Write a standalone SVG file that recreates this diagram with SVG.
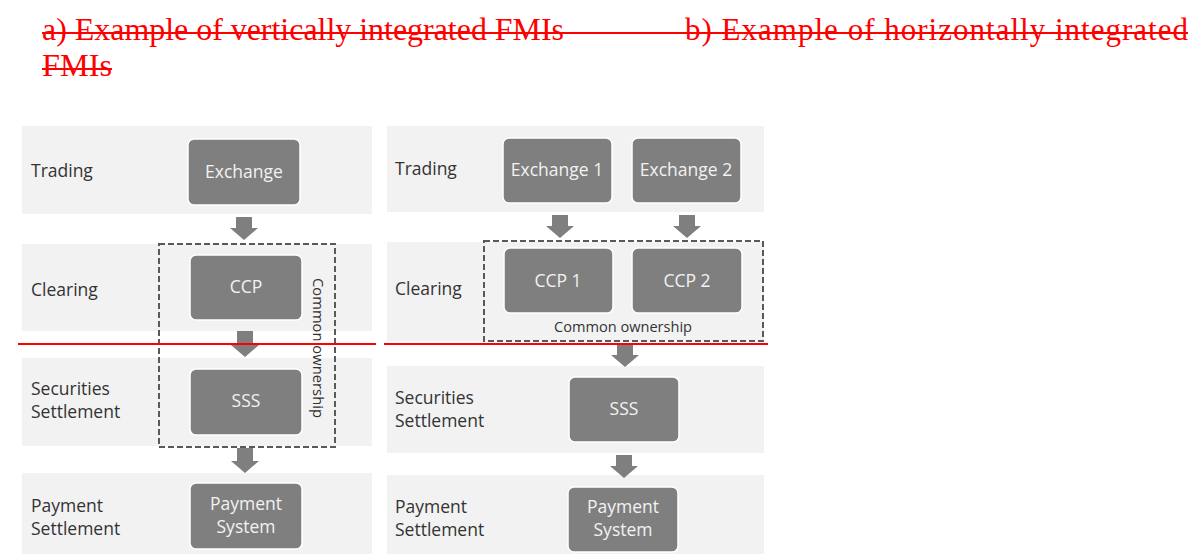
<svg xmlns="http://www.w3.org/2000/svg" width="1192" height="554" viewBox="0 0 1192 554">
<style>
.title{font-family:"Liberation Serif","Times New Roman",serif;font-size:31px;fill:#ff0000}
.strike{stroke:#ff0000;stroke-width:2}
.band{fill:#f2f2f2}
.lbl{font-family:"Open Sans","Noto Sans",sans-serif;font-size:17.5px;fill:#333333}
.box{fill:#7f7f7f;stroke:#ffffff;stroke-width:1.5}
.btxt{font-family:"Open Sans","Noto Sans",sans-serif;font-size:17.5px;fill:#f2f2f2;text-anchor:middle}
.own{font-family:"Open Sans","Noto Sans",sans-serif;font-size:14px;fill:#333333;text-anchor:middle}
.dash{fill:none;stroke:#595959;stroke-width:2;stroke-dasharray:6 3}
.arr{fill:#7f7f7f}
.red{stroke:#ff0000;stroke-width:2}
</style>
<rect width="1192" height="554" fill="#ffffff"/>
<g id="titles">
<text class="title" x="42" y="40" textLength="522" lengthAdjust="spacingAndGlyphs">a) Example of vertically integrated FMIs</text>
<text class="title" x="685" y="40" textLength="503" lengthAdjust="spacing">b) Example of horizontally integrated</text>
<text class="title" x="42" y="76" textLength="70" lengthAdjust="spacingAndGlyphs">FMIs</text>
<line class="strike" x1="42" y1="33" x2="1188" y2="33"/>
<line class="strike" x1="42" y1="69" x2="112" y2="69"/>
</g>
<g id="bands">
<rect class="band" x="22" y="126" width="350" height="88"/>
<rect class="band" x="22" y="244" width="350" height="87"/>
<rect class="band" x="22" y="358" width="350" height="88"/>
<rect class="band" x="22" y="473" width="350" height="81"/>
<rect class="band" x="387" y="126" width="377" height="86"/>
<rect class="band" x="387" y="242" width="377" height="99"/>
<rect class="band" x="387" y="366" width="377" height="87"/>
<rect class="band" x="387" y="475" width="377" height="79"/>
</g>
<g id="labels">
<text class="lbl" x="31" y="177">Trading</text>
<text class="lbl" x="31" y="296">Clearing</text>
<text class="lbl" x="31" y="395">Securities</text>
<text class="lbl" x="31" y="418">Settlement</text>
<text class="lbl" x="31" y="512">Payment</text>
<text class="lbl" x="31" y="535">Settlement</text>
<text class="lbl" x="395" y="175">Trading</text>
<text class="lbl" x="395" y="295">Clearing</text>
<text class="lbl" x="395" y="404">Securities</text>
<text class="lbl" x="395" y="427">Settlement</text>
<text class="lbl" x="395" y="513">Payment</text>
<text class="lbl" x="395" y="536">Settlement</text>
</g>
<g id="connectors">
<path class="arr" d="M236,217 H252 V228 H258 L244,240 L230,228 H236 Z"/>
<path class="arr" d="M237,331 H253 V345 H259 L245,357 L231,345 H237 Z"/>
<path class="arr" d="M237,448 H253 V461 H259 L245,473 L231,461 H237 Z"/>
<path class="arr" d="M552,215 H568 V226 H574 L560,238 L546,226 H552 Z"/>
<path class="arr" d="M679,215 H695 V226 H701 L687,238 L673,226 H679 Z"/>
<path class="arr" d="M617,343 H633 V355 H639 L625,367 L611,355 H617 Z"/>
<path class="arr" d="M616,455 H632 V466 H638 L624,478 L610,466 H616 Z"/>
</g>
<g id="group-left">
<rect class="dash" x="159" y="244" width="176" height="203"/>
<text class="own" transform="translate(313,348) rotate(90)" textLength="140" lengthAdjust="spacingAndGlyphs">Common ownership</text>
</g>
<g id="group-right">
<rect class="dash" x="484" y="241" width="279" height="100"/>
<text class="own" x="623" y="332" textLength="138" lengthAdjust="spacingAndGlyphs">Common ownership</text>
</g>
<g id="exchange">
<rect class="box" x="188" y="139" width="112" height="66" rx="6"/>
<text class="btxt" x="244" y="178">Exchange</text>
</g>
<g id="ccp">
<rect class="box" x="190" y="255" width="112" height="65" rx="6"/>
<text class="btxt" x="246" y="293">CCP</text>
</g>
<g id="sss">
<rect class="box" x="190" y="369" width="112" height="66" rx="6"/>
<text class="btxt" x="246" y="407">SSS</text>
</g>
<g id="payment">
<rect class="box" x="190" y="483" width="112" height="66" rx="6"/>
<text class="btxt" x="246" y="510">Payment</text>
<text class="btxt" x="246" y="533">System</text>
</g>
<g id="exchange1">
<rect class="box" x="503" y="138" width="109" height="65" rx="6"/>
<text class="btxt" x="557" y="176">Exchange 1</text>
</g>
<g id="exchange2">
<rect class="box" x="632" y="138" width="109" height="65" rx="6"/>
<text class="btxt" x="686" y="176">Exchange 2</text>
</g>
<g id="ccp1">
<rect class="box" x="504" y="248" width="109" height="65" rx="6"/>
<text class="btxt" x="558" y="287">CCP 1</text>
</g>
<g id="ccp2">
<rect class="box" x="632" y="248" width="110" height="65" rx="6"/>
<text class="btxt" x="687" y="287">CCP 2</text>
</g>
<g id="sss2">
<rect class="box" x="569" y="377" width="110" height="65" rx="6"/>
<text class="btxt" x="624" y="415">SSS</text>
</g>
<g id="payment2">
<rect class="box" x="568" y="487" width="110" height="65" rx="6"/>
<text class="btxt" x="623" y="513">Payment</text>
<text class="btxt" x="623" y="536">System</text>
</g>
<g id="redlines">
<line class="red" x1="18" y1="344" x2="376" y2="344"/>
<line class="red" x1="384" y1="344" x2="768" y2="344"/>
</g>
</svg>
